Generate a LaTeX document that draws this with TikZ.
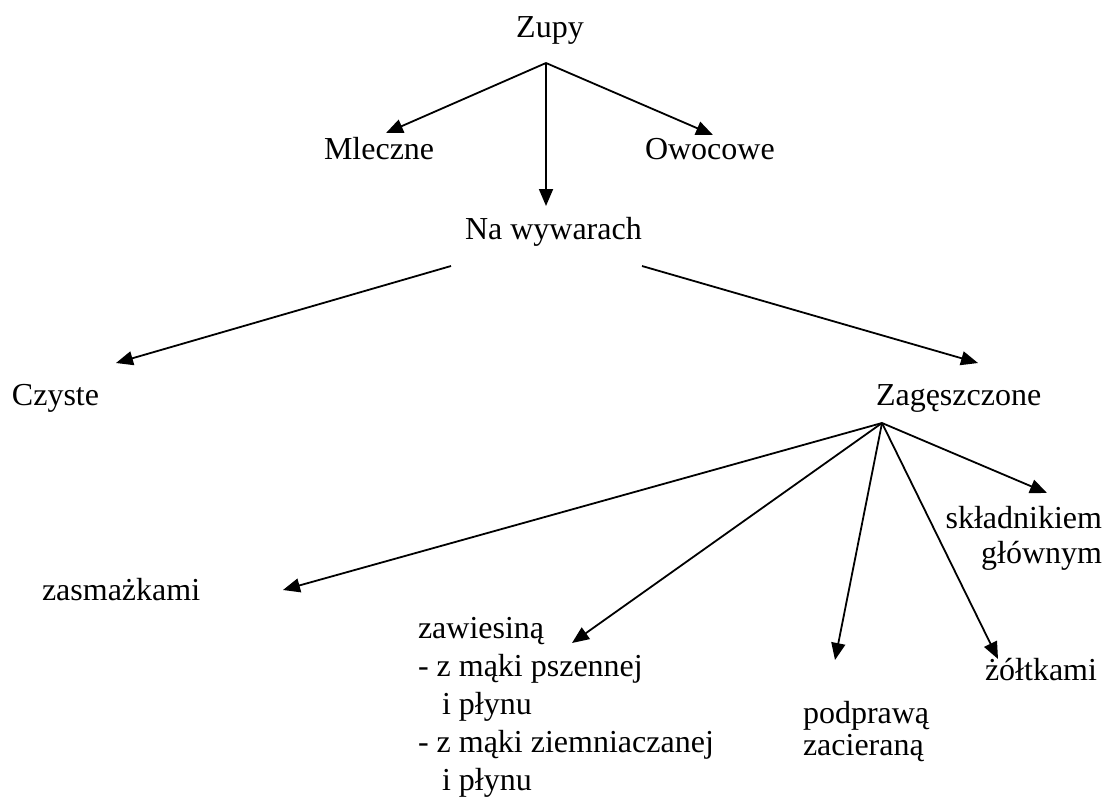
\documentclass[tikz,border=0pt]{standalone}
\usepackage{fontspec}
\setmainfont{Liberation Serif}
\usetikzlibrary{arrows.meta}
\begin{document}
\begin{tikzpicture}[x=1pt,y=-1pt,
  lbl/.style={inner sep=0pt, outer sep=0pt, font=\fontsize{32}{38}\selectfont},
  arr/.style={line width=1.8pt, -{Triangle[length=17pt,width=14pt]}}]
\useasboundingbox (0,0) rectangle (1106,796);

% text nodes (base anchor = baseline of the last line)
\node[lbl, anchor=base] (zupy) at (550,37) {Zupy};
\node[lbl, anchor=base west] (mleczne) at (324,159) {Mleczne};
\node[lbl, anchor=base west] (owocowe) at (645,159) {Owocowe};
\node[lbl, anchor=base west] (nawyw) at (465,239) {Na wywarach};
\node[lbl, anchor=base west] (czyste) at (12,405) {Czyste};
\node[lbl, anchor=base west] (zag) at (876,405) {Zagęszczone};
\node[lbl, anchor=base west] (zasm) at (42,600) {zasmażkami};
\node[lbl, anchor=base west, align=left] (zaw) at (418,790)
  {zawiesiną\\- z mąki pszennej\\\hspace*{24pt}i płynu\\- z mąki ziemniaczanej\\\hspace*{24pt}i płynu};
\node[lbl, anchor=base west, align=left, font=\fontsize{32}{32}\selectfont] (podpr) at (803,755)
  {podprawą\\zacieraną};
\node[lbl, anchor=base west] (zolt) at (985,680) {żółtkami};
\node[lbl, anchor=base east, align=right, font=\fontsize{32}{35}\selectfont] (skl) at (1102,563)
  {składnikiem\\głównym};

% connector end points
\coordinate (zupyOut) at (546,63);
\coordinate (mlIn) at (386,133);
\coordinate (owIn) at (713,135);
\coordinate (nwIn) at (546,206);
\coordinate (nwOutL) at (451,266);
\coordinate (nwOutR) at (642,266);
\coordinate (czIn) at (116,363);
\coordinate (zagIn) at (978,363);
\coordinate (zagOut) at (882,423);
\coordinate (zasmIn) at (283,590);
\coordinate (zawIn) at (572,643);
\coordinate (podIn) at (835,660);
\coordinate (zoltIn) at (998,659);
\coordinate (sklIn) at (1047,493);

% connectors
\draw[arr] (zupyOut) -- (mlIn);
\draw[arr] (zupyOut) -- (owIn);
\draw[arr] (zupyOut) -- (nwIn);
\draw[arr] (nwOutL) -- (czIn);
\draw[arr] (nwOutR) -- (zagIn);
\draw[arr] (zagOut) -- (zasmIn);
\draw[arr] (zagOut) -- (zawIn);
\draw[arr] (zagOut) -- (podIn);
\draw[arr] (zagOut) -- (zoltIn);
\draw[arr] (zagOut) -- (sklIn);
\end{tikzpicture}
\end{document}
